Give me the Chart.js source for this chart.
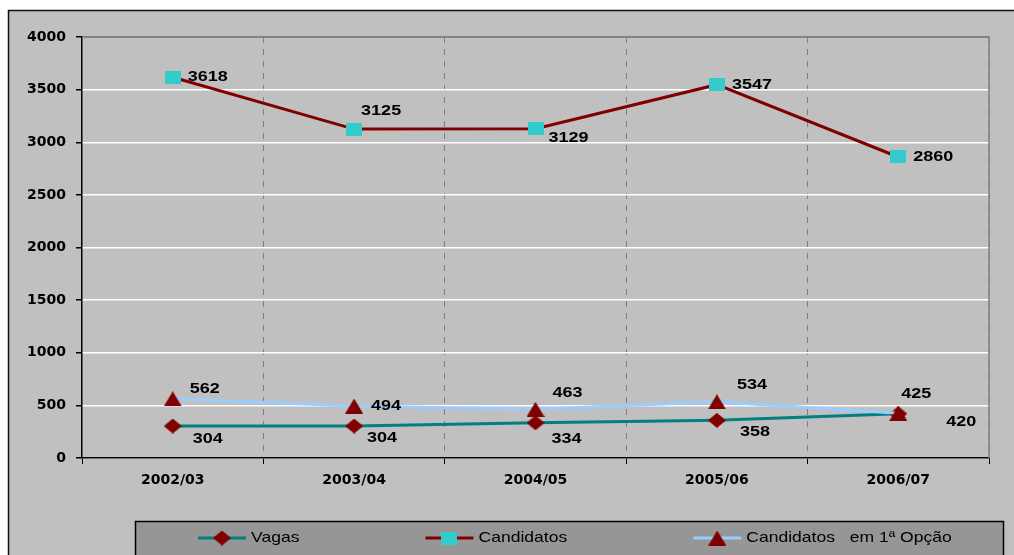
<!DOCTYPE html>
<html>
<head>
<meta charset="utf-8">
<script src="https://cdn.jsdelivr.net/npm/chart.js@4/dist/chart.umd.min.js"></script>
<style>
  html, body { margin: 0; padding: 0; background: #c0c0c0; overflow: hidden; }
  #chart { display: block; }
</style>
</head>
<body>
<canvas id="chart" width="1014" height="555"></canvas>
<script>
// Academic years on the category axis
const categories = ['2002/03', '2003/04', '2004/05', '2005/06', '2006/07'];

// Series values
const vagas = [304, 304, 334, 358, 420];
const candidatos = [3618, 3125, 3129, 3547, 2860];
const candidatos1Opcao = [562, 494, 463, 534, 425];

// Series names shown in the legend
const seriesNames = ['Vagas', 'Candidatos', 'Candidatos   em 1ª Opção'];

// Value axis range
const yMin = 0;
const yMax = 4000;
const yStep = 500;

// Where each value label sits relative to its point (left edge, vertical centre)
const vagasLabelOffsets = [[20, 13], [13, 12], [16, 16], [23, 12], [48, 8]];
const candidatosLabelOffsets = [[15, 0], [7, -18], [13, 9], [15, 0], [15, 0]];
const candidatos1LabelOffsets = [[17, -10], [17, 0], [17, -16], [20, -17], [3, -19]];

const RED = '#800000';
const TEAL = '#008080';
const CYAN = '#33CCCC';
const SKY = '#99CCFF';

function makeMarker(shape, w, h, color) {
  const c = document.createElement('canvas');
  c.width = w; c.height = h;
  const g = c.getContext('2d');
  g.fillStyle = color;
  g.beginPath();
  if (shape === 'diamond') {
    g.moveTo(w / 2, 0); g.lineTo(w, h / 2); g.lineTo(w / 2, h); g.lineTo(0, h / 2);
  } else if (shape === 'triangle') {
    g.moveTo(w / 2, 0); g.lineTo(w, h); g.lineTo(0, h);
  } else {
    g.rect(0, 0, w, h);
  }
  g.closePath();
  g.fill();
  return c;
}

const diamondMarker = makeMarker('diamond', 18, 15, RED);
const squareMarker = makeMarker('square', 16, 13, CYAN);
const triangleMarker = makeMarker('triangle', 18, 15, RED);

function drawStretched(ctx, text, x, y, font, sx) {
  ctx.save();
  ctx.font = font;
  ctx.translate(x, y);
  ctx.scale(sx, 1);
  ctx.fillText(text, 0, 0);
  ctx.restore();
}

const frameBackground = {
  id: 'frameBackground',
  beforeDraw(chart) {
    const ctx = chart.ctx;
    ctx.save();
    ctx.fillStyle = '#ffffff';
    ctx.fillRect(0, 0, chart.width, chart.height);
    ctx.fillStyle = '#c0c0c0';
    ctx.fillRect(8, 10, chart.width, chart.height);
    ctx.strokeStyle = '#111111';
    ctx.lineWidth = 1.5;
    ctx.beginPath();
    ctx.moveTo(8.5, chart.height);
    ctx.lineTo(8.5, 10.5);
    ctx.lineTo(chart.width, 10.5);
    ctx.stroke();
    ctx.restore();
  }
};

const plotFrame = {
  id: 'plotFrame',
  beforeDatasetsDraw(chart) {
    const { ctx, chartArea: a } = chart;
    ctx.save();
    ctx.strokeStyle = '#808080';
    ctx.lineWidth = 1.5;
    ctx.beginPath();
    ctx.moveTo(a.left, a.top);
    ctx.lineTo(a.right, a.top);
    ctx.lineTo(a.right, a.bottom);
    ctx.stroke();
    ctx.restore();
  }
};

const valueLabels = {
  id: 'valueLabels',
  afterDatasetsDraw(chart) {
    const ctx = chart.ctx;
    ctx.save();
    ctx.fillStyle = '#000000';
    ctx.textAlign = 'left';
    ctx.textBaseline = 'middle';
    chart.data.datasets.forEach((ds, di) => {
      const meta = chart.getDatasetMeta(di);
      meta.data.forEach((pt, i) => {
        const off = ds.labelOffsets[i];
        drawStretched(ctx, String(ds.data[i]), pt.x + off[0], pt.y + off[1],
          'bold 15px "Liberation Sans", Arial, sans-serif', 1.2);
      });
    });
    ctx.restore();
  }
};

const boxedLegend = {
  id: 'boxedLegend',
  afterDraw(chart) {
    const ctx = chart.ctx;
    ctx.save();
    ctx.fillStyle = '#969696';
    ctx.fillRect(135, 521, 869, 60);
    ctx.strokeStyle = '#000000';
    ctx.lineWidth = 1.5;
    ctx.strokeRect(135.5, 521.5, 868, 60);

    const font = '15px "Liberation Sans", Arial, sans-serif';
    const sx = 1.17;
    const cy = 538;
    let x = 198;
    ctx.textAlign = 'left';
    ctx.textBaseline = 'middle';
    chart.data.datasets.forEach((ds) => {
      ctx.strokeStyle = ds.borderColor;
      ctx.lineWidth = 3;
      ctx.beginPath();
      ctx.moveTo(x, cy);
      ctx.lineTo(x + 48, cy);
      ctx.stroke();
      const m = ds.pointStyle;
      ctx.drawImage(m, x + 24 - m.width / 2, cy - m.height / 2);
      ctx.fillStyle = '#000000';
      ctx.font = font;
      const tw = ctx.measureText(ds.label).width * sx;
      drawStretched(ctx, ds.label, x + 53, cy, font, sx);
      x += 53 + tw + 126;
    });
    ctx.restore();
  }
};

new Chart(document.getElementById('chart'), {
  type: 'line',
  data: {
    labels: categories,
    datasets: [
      {
        label: seriesNames[0], data: vagas, labelOffsets: vagasLabelOffsets,
        borderColor: TEAL, backgroundColor: TEAL, borderWidth: 3,
        pointStyle: diamondMarker, order: 2
      },
      {
        label: seriesNames[1], data: candidatos, labelOffsets: candidatosLabelOffsets,
        borderColor: RED, backgroundColor: CYAN, borderWidth: 3,
        pointStyle: squareMarker, order: 1
      },
      {
        label: seriesNames[2], data: candidatos1Opcao, labelOffsets: candidatos1LabelOffsets,
        borderColor: SKY, backgroundColor: RED, borderWidth: 3,
        pointStyle: triangleMarker, order: 0
      }
    ]
  },
  options: {
    responsive: false,
    animation: false,
    devicePixelRatio: 1,
    layout: { padding: { left: 0, top: 37, right: 25, bottom: 0 } },
    elements: {
      line: { tension: 0, fill: false },
      point: { radius: 8, hoverRadius: 8 }
    },
    plugins: {
      legend: { display: false },
      tooltip: { enabled: false },
      title: { display: false }
    },
    scales: {
      x: {
        type: 'category',
        offset: true,
        afterFit(scale) { scale.height = 97; },
        grid: {
          offset: true,
          color: (c) => (c.index === 0 || c.index === categories.length) ? 'rgba(0,0,0,0)' : '#808080',
          lineWidth: 1,
          tickColor: '#000000',
          tickLength: 6,
          tickBorderDash: []
        },
        border: { display: true, color: '#000000', width: 1.5, dash: [6, 6] },
        ticks: {
          color: '#000000',
          padding: 8,
          maxRotation: 0,
          font: { family: '"DejaVu Sans", sans-serif', size: 14, weight: 'bold' }
        }
      },
      y: {
        min: yMin,
        max: yMax,
        afterFit(scale) { scale.width = 82; },
        grid: {
          color: (c) => c.tick && c.tick.value === yMax ? '#808080' : '#ffffff',
          lineWidth: 1.5,
          tickColor: '#000000',
          tickLength: 6
        },
        border: { display: true, color: '#000000', width: 1.5 },
        ticks: {
          stepSize: yStep,
          color: '#000000',
          padding: 10,
          callback: (v) => String(v),
          font: { family: '"DejaVu Sans", sans-serif', size: 14, weight: 'bold' }
        }
      }
    }
  },
  plugins: [frameBackground, plotFrame, valueLabels, boxedLegend]
});
</script>
</body>
</html>
